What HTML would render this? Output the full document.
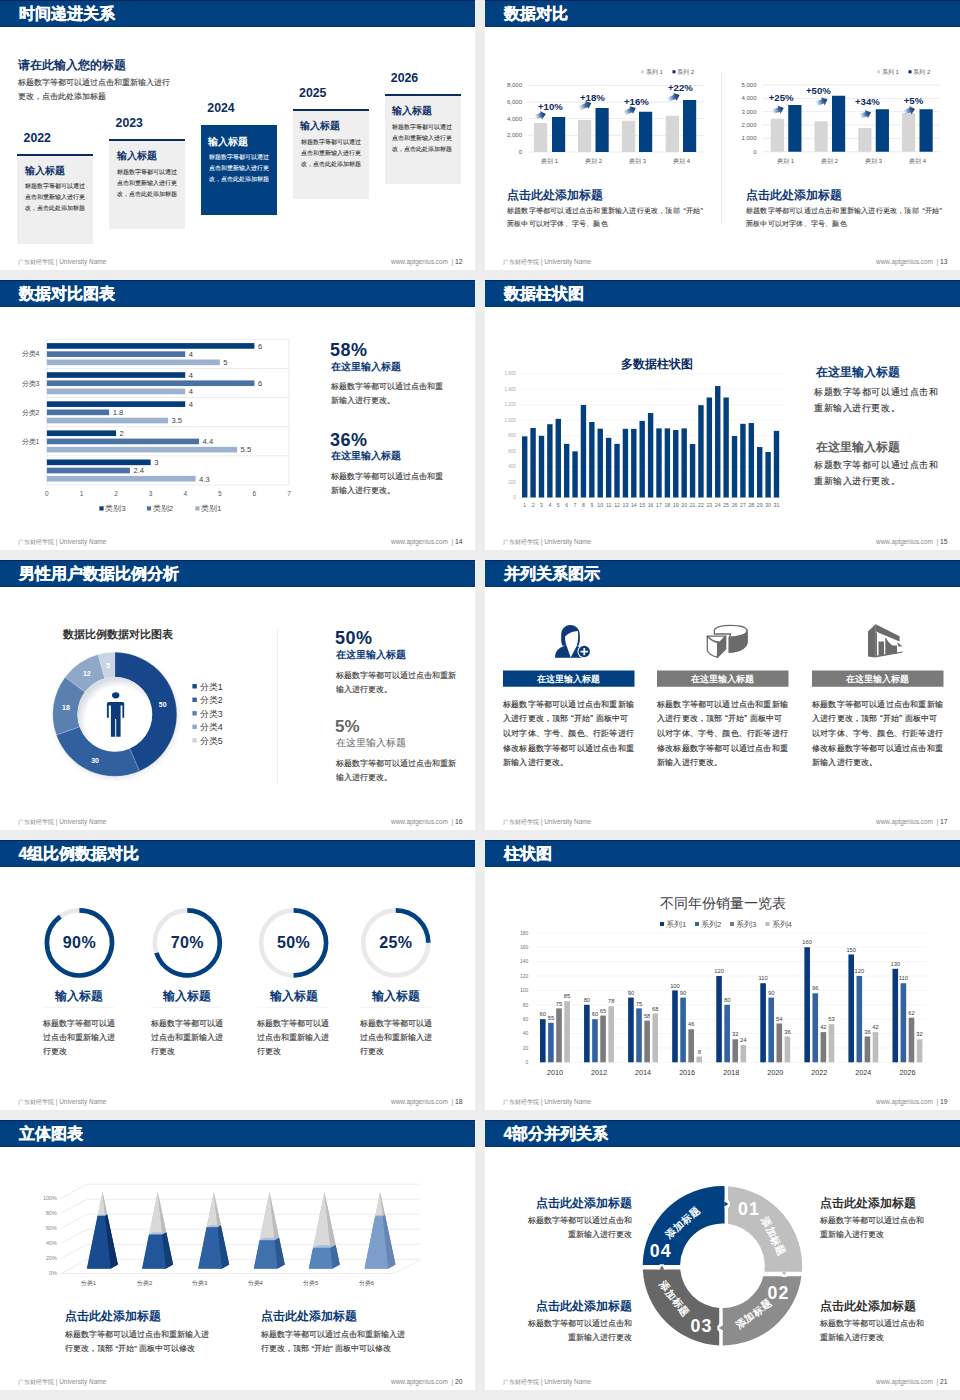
<!DOCTYPE html>
<html><head><meta charset="utf-8">
<style>
*{margin:0;padding:0;box-sizing:border-box}
html,body{width:960px;height:1400px;background:#ededed;overflow:hidden;font-family:"Liberation Sans",sans-serif}
.s{position:absolute;width:475px;height:270px;background:#fff;overflow:hidden}
.hd{position:absolute;left:0;top:0;width:475px;height:27px;background:#014181;border-bottom:1px solid #06316a;box-shadow:inset 0 1px 0 #05265a;color:#fff;font-weight:bold;font-size:15.8px;line-height:28.4px;padding-left:18.6px;-webkit-text-stroke:0.3px #fff}
.fl,.fr{position:absolute;top:257.5px;font-size:6.4px;color:#8a8a8a;white-space:nowrap}
.fl{left:18px}
.fr{right:12.5px}
.fr b{font-weight:normal;color:#444;font-size:6.8px}
.a{position:absolute;white-space:nowrap}
.sv{position:absolute;left:0;top:0}
.ax{font-size:6px;fill:#595959}
.t1{position:absolute;left:18px;top:56.5px;font-size:12px;font-weight:bold;color:#13356b;line-height:16px;white-space:nowrap}
.b1{position:absolute;left:18px;top:75.5px;font-size:8px;color:#333;-webkit-text-stroke:0.08px #333;line-height:14.5px;white-space:nowrap}
.yr{position:absolute;font-size:12.3px;font-weight:bold;color:#0b2c5f;line-height:16px}
.bx{position:absolute;width:76px;height:90px;background:#efefef;border-top:2px solid #0b2c5f;padding:8px 0 0 7.4px}
.bx.bl{background:#014181;border-top:0;padding-top:10px}
.bt{font-size:10px;font-weight:bold;color:#13356b;line-height:14px;white-space:nowrap}
.bl .bt{color:#fff}
.bb{font-size:6.3px;color:#333;padding-left:0.5px;-webkit-text-stroke:0.08px #333;line-height:11px;margin-top:2.8px;white-space:nowrap}
.bl .bb{color:#f4f6fa;margin-top:2px;-webkit-text-stroke:0.08px #f4f6fa}
.vl{font-size:7.6px;fill:#404040}
.yl{font-size:7px;fill:#505050}
.lg3{font-size:8px;fill:#505050}
.ax3{font-size:6.5px;fill:#595959}
.bigp{font-size:18px;font-weight:bold;fill:#0b2c5f;letter-spacing:0.5px}
.st{font-size:9.8px;font-weight:bold;fill:#0b3a78}
.bt3{font-size:8.1px;fill:#333;stroke:#333;stroke-width:0.12px}
.t4{font-size:11.7px;font-weight:bold;fill:#0b2c5f}
.tiny{font-size:4.5px;fill:#aaa}
.tiny2{font-size:5.2px;fill:#666}
.t4b{font-size:11.9px;fill:#0b3a78;font-weight:bold}
.t4c{font-size:11.9px;fill:#606060;font-weight:bold}
.b4{font-size:9px;letter-spacing:0.55px;fill:#333;stroke:#333;stroke-width:0.12px}
.dl{font-size:7px;font-weight:bold;fill:#fff}
.t5{font-size:10.9px;font-weight:bold;fill:#333}
.lg5{font-size:8.9px;fill:#333}
.bt5{font-size:8px;fill:#333;stroke:#333;stroke-width:0.12px}
.bigg{font-size:17px;font-weight:bold;fill:#666}
.stg{font-size:9.8px;fill:#666}
.bn6{font-size:8.6px;font-weight:bold;fill:#fff}
.bt6{font-size:8.3px;letter-spacing:0.18px;fill:#2a2a2a;stroke:#2a2a2a;stroke-width:0.12px}
.rp{font-size:16px;font-weight:bold;fill:#0b2c5f;letter-spacing:0.4px}
.rt{font-size:11.7px;font-weight:bold;fill:#0b3a78}
.b7{font-size:7.9px;fill:#333;stroke:#333;stroke-width:0.12px}
.t8{font-size:13.5px;fill:#404040}
.lg8{font-size:7.8px;fill:#555}
.tiny8{font-size:5px;fill:#777}
.vl8{font-size:5.8px;fill:#404040}
.yr8{font-size:7.2px;fill:#333}
.ax9{font-size:5.5px;fill:#888}
.ax9b{font-size:6px;fill:#555}
.t9{font-size:11.9px;font-weight:bold;fill:#0b3a78}
.b9{font-size:8px;fill:#333;stroke:#333;stroke-width:0.12px}
.n10{font-size:17.8px;font-weight:bold;fill:#fff;letter-spacing:1.1px}
.r10{font-size:10px;font-weight:bold;fill:#fff;letter-spacing:0.6px}
.t10{font-size:11.8px;font-weight:bold;fill:#0b3a78}
.t10g{font-size:11.8px;font-weight:bold;fill:#333}
.b10{font-size:7.9px;fill:#333;stroke:#333;stroke-width:0.12px}
.pc{font-size:9.6px;font-weight:bold;fill:#0b2c5f}
.t2{position:absolute;font-size:12px;font-weight:bold;color:#123b77;line-height:16px;white-space:nowrap}
.b2{position:absolute;font-size:7.2px;letter-spacing:0.2px;color:#333;-webkit-text-stroke:0.08px #333;line-height:12.5px;white-space:nowrap}
</style></head><body>
<div class="s" style="left:0px;top:0px"><div class="hd">时间递进关系</div><div class="t1">请在此输入您的标题</div><div class="b1">标题数字等都可以通过点击和重新输入进行<br>更改，点击此处添加标题</div>
<div class="yr" style="left:23.6px;top:129.7px">2022</div><div class="bx" style="left:17.3px;top:153.5px"><div class="bt">输入标题</div><div class="bb">标题数字等都可以通过<br>点击和重新输入进行更<br>改，点击此处添加标题</div></div>
<div class="yr" style="left:115.6px;top:115.2px">2023</div><div class="bx" style="left:109.3px;top:139px"><div class="bt">输入标题</div><div class="bb">标题数字等都可以通过<br>点击和重新输入进行更<br>改，点击此处添加标题</div></div>
<div class="yr" style="left:207.3px;top:100.2px">2024</div><div class="bx bl" style="left:201px;top:125px"><div class="bt">输入标题</div><div class="bb">标题数字等都可以通过<br>点击和重新输入进行更<br>改，点击此处添加标题</div></div>
<div class="yr" style="left:299.1px;top:85.2px">2025</div><div class="bx" style="left:292.8px;top:109px"><div class="bt">输入标题</div><div class="bb">标题数字等都可以通过<br>点击和重新输入进行更<br>改，点击此处添加标题</div></div>
<div class="yr" style="left:390.8px;top:70.2px">2026</div><div class="bx" style="left:384.5px;top:94px"><div class="bt">输入标题</div><div class="bb">标题数字等都可以通过<br>点击和重新输入进行更<br>改，点击此处添加标题</div></div>
<div class="fl">广东财经学院 | University Name</div><div class="fr">www.aptgenius.com &nbsp;| <b>12</b></div></div>
<div class="s" style="left:485px;top:0px"><div class="hd">数据对比</div><svg class="sv" width="475" height="270"><defs><linearGradient id="ag" x1="0" y1="0" x2="1" y2="0"><stop offset="0" stop-color="#3a6fb0" stop-opacity="0"/><stop offset="0.55" stop-color="#1d4f92" stop-opacity="0.85"/><stop offset="1" stop-color="#0b2c5f"/></linearGradient></defs>
<line x1="236.5" y1="72" x2="236.5" y2="224" stroke="#eeeeee" stroke-width="1"/>
<line x1="43" y1="85.4" x2="219" y2="85.4" stroke="#e6e6e6" stroke-width="0.8"/><text x="37" y="87.4" text-anchor="end" class="ax">8,000</text><line x1="43" y1="102.05" x2="219" y2="102.05" stroke="#e6e6e6" stroke-width="0.8"/><text x="37" y="104.05" text-anchor="end" class="ax">6,000</text><line x1="43" y1="118.7" x2="219" y2="118.7" stroke="#e6e6e6" stroke-width="0.8"/><text x="37" y="120.7" text-anchor="end" class="ax">4,000</text><line x1="43" y1="135.35" x2="219" y2="135.35" stroke="#e6e6e6" stroke-width="0.8"/><text x="37" y="137.35" text-anchor="end" class="ax">2,000</text><line x1="43" y1="152" x2="219" y2="152" stroke="#e6e6e6" stroke-width="0.8"/><text x="37" y="154" text-anchor="end" class="ax">0</text><rect x="49" y="123" width="13.2" height="29.00" fill="#d6d6d6"/><rect x="67" y="117" width="13.2" height="35.00" fill="#014181"/><rect x="93" y="120" width="13.2" height="32.00" fill="#d6d6d6"/><rect x="110.5" y="108" width="13.2" height="44.00" fill="#014181"/><rect x="137" y="120.75" width="13.2" height="31.25" fill="#d6d6d6"/><rect x="154" y="111.75" width="13.2" height="40.25" fill="#014181"/><rect x="180.75" y="115.75" width="13.2" height="36.25" fill="#d6d6d6"/><rect x="198" y="100" width="13.2" height="52.00" fill="#014181"/><text x="64.5" y="163.2" text-anchor="middle" class="ax">类别 1</text><text x="108.5" y="163.2" text-anchor="middle" class="ax">类别 2</text><text x="152.5" y="163.2" text-anchor="middle" class="ax">类别 3</text><text x="196.5" y="163.2" text-anchor="middle" class="ax">类别 4</text><rect x="156" y="70.3" width="3" height="3" fill="#d6d6d6"/><text x="160.8" y="74" class="ax">系列 1</text><rect x="187.5" y="70.3" width="3" height="3" fill="#0b2c5f"/><text x="192.3" y="74" class="ax">系列 2</text><path d="M0,-2.3 L6.13,-2.3 L6.13,-4.4 L11.13,0 L6.13,4.4 L6.13,2.3 L0,2.3 Z" fill="url(#ag)" transform="translate(50,116.7) rotate(-14.0)"/><path d="M0,-2.3 L8.66,-2.3 L8.66,-4.4 L13.66,0 L8.66,4.4 L8.66,2.3 L0,2.3 Z" fill="url(#ag)" transform="translate(93.75,108.5) rotate(-23.7)"/><path d="M0,-2.3 L8.20,-2.3 L8.20,-4.4 L13.20,0 L8.20,4.4 L8.20,2.3 L0,2.3 Z" fill="url(#ag)" transform="translate(138.75,113.5) rotate(-24.6)"/><path d="M0,-2.3 L8.00,-2.3 L8.00,-4.4 L13.00,0 L8.00,4.4 L8.00,2.3 L0,2.3 Z" fill="url(#ag)" transform="translate(182.5,100.0) rotate(-22.6)"/><text x="53" y="110" class="pc">+10%</text><text x="95" y="100.5" class="pc">+18%</text><text x="139" y="105" class="pc">+16%</text><text x="183" y="91" class="pc">+22%</text><line x1="277.5" y1="85" x2="455" y2="85" stroke="#e6e6e6" stroke-width="0.8"/><text x="271.5" y="87" text-anchor="end" class="ax">5,000</text><line x1="277.5" y1="98.35" x2="455" y2="98.35" stroke="#e6e6e6" stroke-width="0.8"/><text x="271.5" y="100.35" text-anchor="end" class="ax">4,000</text><line x1="277.5" y1="111.7" x2="455" y2="111.7" stroke="#e6e6e6" stroke-width="0.8"/><text x="271.5" y="113.7" text-anchor="end" class="ax">3,000</text><line x1="277.5" y1="125.05" x2="455" y2="125.05" stroke="#e6e6e6" stroke-width="0.8"/><text x="271.5" y="127.05" text-anchor="end" class="ax">2,000</text><line x1="277.5" y1="138.4" x2="455" y2="138.4" stroke="#e6e6e6" stroke-width="0.8"/><text x="271.5" y="140.4" text-anchor="end" class="ax">1,000</text><line x1="277.5" y1="151.75" x2="455" y2="151.75" stroke="#e6e6e6" stroke-width="0.8"/><text x="271.5" y="153.75" text-anchor="end" class="ax">0</text><rect x="285.75" y="118.75" width="13.2" height="33.00" fill="#d6d6d6"/><rect x="303.25" y="105" width="13.2" height="46.75" fill="#014181"/><rect x="329.5" y="121.25" width="13.2" height="30.50" fill="#d6d6d6"/><rect x="347" y="95.75" width="13.2" height="56.00" fill="#014181"/><rect x="373.25" y="128" width="13.2" height="23.75" fill="#d6d6d6"/><rect x="390.75" y="109.25" width="13.2" height="42.50" fill="#014181"/><rect x="417" y="113.25" width="13.2" height="38.50" fill="#d6d6d6"/><rect x="434.5" y="109.25" width="13.2" height="42.50" fill="#014181"/><text x="300.5" y="163.2" text-anchor="middle" class="ax">类别 1</text><text x="344.5" y="163.2" text-anchor="middle" class="ax">类别 2</text><text x="388.5" y="163.2" text-anchor="middle" class="ax">类别 3</text><text x="432.5" y="163.2" text-anchor="middle" class="ax">类别 4</text><rect x="392" y="70.3" width="3" height="3" fill="#d6d6d6"/><text x="396.8" y="74" class="ax">系列 1</text><rect x="423.5" y="70.3" width="3" height="3" fill="#0b2c5f"/><text x="428.3" y="74" class="ax">系列 2</text><path d="M0,-2.3 L6.94,-2.3 L6.94,-4.4 L11.94,0 L6.94,4.4 L6.94,2.3 L0,2.3 Z" fill="url(#ag)" transform="translate(287.5,112.0) rotate(-19.6)"/><path d="M0,-2.3 L7.35,-2.3 L7.35,-4.4 L12.35,0 L7.35,4.4 L7.35,2.3 L0,2.3 Z" fill="url(#ag)" transform="translate(331,104.0) rotate(-21.4)"/><path d="M0,-2.3 L6.70,-2.3 L6.70,-4.4 L11.70,0 L6.70,4.4 L6.70,2.3 L0,2.3 Z" fill="url(#ag)" transform="translate(375,116.5) rotate(-20.0)"/><path d="M0,-2.3 L6.64,-2.3 L6.64,-4.4 L11.64,0 L6.64,4.4 L6.64,2.3 L0,2.3 Z" fill="url(#ag)" transform="translate(418.75,112.0) rotate(-14.9)"/><text x="283.75" y="101" class="pc">+25%</text><text x="321" y="94" class="pc">+50%</text><text x="370" y="105" class="pc">+34%</text><text x="418.75" y="104" class="pc">+5%</text></svg>
<div class="t2" style="left:22px;top:186.5px">点击此处添加标题</div><div class="b2" style="left:22px;top:205.2px">标题数字等都可以通过点击和重新输入进行更改，顶部&#8194;“开始”<br>面板中可以对字体、字号、颜色</div>
<div class="t2" style="left:261px;top:186.5px">点击此处添加标题</div><div class="b2" style="left:261px;top:205.2px">标题数字等都可以通过点击和重新输入进行更改，顶部&#8194;“开始”<br>面板中可以对字体、字号、颜色</div>
<div class="fl">广东财经学院 | University Name</div><div class="fr">www.aptgenius.com &nbsp;| <b>13</b></div></div>
<div class="s" style="left:0px;top:280px"><div class="hd">数据对比图表</div><svg class="sv" width="475" height="270"><line x1="46.9" y1="59.40" x2="289" y2="59.40" stroke="#e3e3e3" stroke-width="0.7"/><line x1="46.9" y1="88.50" x2="289" y2="88.50" stroke="#e3e3e3" stroke-width="0.7"/><line x1="46.9" y1="117.60" x2="289" y2="117.60" stroke="#e3e3e3" stroke-width="0.7"/><line x1="46.9" y1="146.70" x2="289" y2="146.70" stroke="#e3e3e3" stroke-width="0.7"/><line x1="46.9" y1="175.80" x2="289" y2="175.80" stroke="#e3e3e3" stroke-width="0.7"/><line x1="46.9" y1="204.90" x2="289" y2="204.90" stroke="#e3e3e3" stroke-width="0.7"/><line x1="46.9" y1="59.4" x2="46.9" y2="204.90" stroke="#e3e3e3" stroke-width="0.7"/><line x1="289" y1="59.4" x2="289" y2="204.90" stroke="#e3e3e3" stroke-width="0.7"/><rect x="46.9" y="63.10" width="207.51" height="5.65" fill="#053c7c"/><text x="257.91" y="68.70" class="vl">6</text><rect x="46.9" y="71.30" width="138.34" height="5.65" fill="#4b72a4"/><text x="188.74" y="76.90" class="vl">4</text><rect x="46.9" y="79.50" width="172.93" height="5.65" fill="#9cb2cf"/><text x="223.33" y="85.10" class="vl">5</text><rect x="46.9" y="92.20" width="138.34" height="5.65" fill="#053c7c"/><text x="188.74" y="97.80" class="vl">4</text><rect x="46.9" y="100.40" width="207.51" height="5.65" fill="#4b72a4"/><text x="257.91" y="106.00" class="vl">6</text><rect x="46.9" y="108.60" width="138.34" height="5.65" fill="#9cb2cf"/><text x="188.74" y="114.20" class="vl">4</text><rect x="46.9" y="121.30" width="138.34" height="5.65" fill="#053c7c"/><text x="188.74" y="126.90" class="vl">4</text><rect x="46.9" y="129.50" width="62.25" height="5.65" fill="#4b72a4"/><text x="112.65" y="135.10" class="vl">1.8</text><rect x="46.9" y="137.70" width="121.05" height="5.65" fill="#9cb2cf"/><text x="171.45" y="143.30" class="vl">3.5</text><rect x="46.9" y="150.40" width="69.17" height="5.65" fill="#053c7c"/><text x="119.57" y="156.00" class="vl">2</text><rect x="46.9" y="158.60" width="152.18" height="5.65" fill="#4b72a4"/><text x="202.58" y="164.20" class="vl">4.4</text><rect x="46.9" y="166.80" width="190.22" height="5.65" fill="#9cb2cf"/><text x="240.62" y="172.40" class="vl">5.5</text><rect x="46.9" y="179.50" width="103.76" height="5.65" fill="#053c7c"/><text x="154.16" y="185.10" class="vl">3</text><rect x="46.9" y="187.70" width="83.01" height="5.65" fill="#4b72a4"/><text x="133.41" y="193.30" class="vl">2.4</text><rect x="46.9" y="195.90" width="148.72" height="5.65" fill="#9cb2cf"/><text x="199.12" y="201.50" class="vl">4.3</text><text x="39.5" y="76.45" text-anchor="end" class="yl">分类4</text><text x="39.5" y="105.55" text-anchor="end" class="yl">分类3</text><text x="39.5" y="134.65" text-anchor="end" class="yl">分类2</text><text x="39.5" y="163.75" text-anchor="end" class="yl">分类1</text><text x="46.90" y="215.8" text-anchor="middle" class="ax3">0</text><text x="81.49" y="215.8" text-anchor="middle" class="ax3">1</text><text x="116.07" y="215.8" text-anchor="middle" class="ax3">2</text><text x="150.66" y="215.8" text-anchor="middle" class="ax3">3</text><text x="185.24" y="215.8" text-anchor="middle" class="ax3">4</text><text x="219.83" y="215.8" text-anchor="middle" class="ax3">5</text><text x="254.41" y="215.8" text-anchor="middle" class="ax3">6</text><text x="289.00" y="215.8" text-anchor="middle" class="ax3">7</text><rect x="99.4" y="226.3" width="4.2" height="4.2" fill="#053c7c"/><text x="105.2" y="231.3" class="lg3">类别3</text><rect x="146.9" y="226.3" width="4.2" height="4.2" fill="#4b72a4"/><text x="152.70000000000002" y="231.3" class="lg3">类别2</text><rect x="195.3" y="226.3" width="4.2" height="4.2" fill="#9cb2cf"/><text x="201.10000000000002" y="231.3" class="lg3">类别1</text><text x="330" y="75.9" class="bigp">58%</text><text x="330.6" y="89.5" class="st">在这里输入标题</text>
<text x="330.6" y="109.4" class="bt3">标题数字等都可以通过点击和重</text><text x="330.6" y="123.4" class="bt3">新输入进行更改。</text>
<text x="330" y="165.8" class="bigp">36%</text><text x="330.6" y="179" class="st">在这里输入标题</text>
<text x="330.6" y="199.3" class="bt3">标题数字等都可以通过点击和重</text><text x="330.6" y="213.3" class="bt3">新输入进行更改。</text>
</svg><div class="fl">广东财经学院 | University Name</div><div class="fr">www.aptgenius.com &nbsp;| <b>14</b></div></div>
<div class="s" style="left:485px;top:280px"><div class="hd">数据柱状图</div><svg class="sv" width="475" height="270"><text x="172.2" y="88.3" text-anchor="middle" class="t4">多数据柱状图</text><line x1="34" y1="93.70" x2="298" y2="93.70" stroke="#f0f0f0" stroke-width="0.6"/><text x="30.8" y="95.40" text-anchor="end" class="tiny">1,600</text><line x1="34" y1="109.18" x2="298" y2="109.18" stroke="#f0f0f0" stroke-width="0.6"/><text x="30.8" y="110.88" text-anchor="end" class="tiny">1,400</text><line x1="34" y1="124.66" x2="298" y2="124.66" stroke="#f0f0f0" stroke-width="0.6"/><text x="30.8" y="126.36" text-anchor="end" class="tiny">1,200</text><line x1="34" y1="140.14" x2="298" y2="140.14" stroke="#f0f0f0" stroke-width="0.6"/><text x="30.8" y="141.84" text-anchor="end" class="tiny">1,000</text><line x1="34" y1="155.62" x2="298" y2="155.62" stroke="#f0f0f0" stroke-width="0.6"/><text x="30.8" y="157.32" text-anchor="end" class="tiny">800</text><line x1="34" y1="171.10" x2="298" y2="171.10" stroke="#f0f0f0" stroke-width="0.6"/><text x="30.8" y="172.80" text-anchor="end" class="tiny">600</text><line x1="34" y1="186.58" x2="298" y2="186.58" stroke="#f0f0f0" stroke-width="0.6"/><text x="30.8" y="188.28" text-anchor="end" class="tiny">400</text><line x1="34" y1="202.06" x2="298" y2="202.06" stroke="#f0f0f0" stroke-width="0.6"/><text x="30.8" y="203.76" text-anchor="end" class="tiny">200</text><line x1="34" y1="217.54" x2="298" y2="217.54" stroke="#f0f0f0" stroke-width="0.6"/><text x="30.8" y="219.24" text-anchor="end" class="tiny">0</text><rect x="37.00" y="156.35" width="5.4" height="61.15" fill="#023f7c"/><text x="39.70" y="227" text-anchor="middle" class="tiny2">1</text><rect x="45.39" y="147.99" width="5.4" height="69.51" fill="#023f7c"/><text x="48.09" y="227" text-anchor="middle" class="tiny2">2</text><rect x="53.79" y="155.81" width="5.4" height="61.69" fill="#023f7c"/><text x="56.49" y="227" text-anchor="middle" class="tiny2">3</text><rect x="62.18" y="144.20" width="5.4" height="73.30" fill="#023f7c"/><text x="64.88" y="227" text-anchor="middle" class="tiny2">4</text><rect x="70.57" y="138.86" width="5.4" height="78.64" fill="#023f7c"/><text x="73.27" y="227" text-anchor="middle" class="tiny2">5</text><rect x="78.97" y="163.86" width="5.4" height="53.64" fill="#023f7c"/><text x="81.67" y="227" text-anchor="middle" class="tiny2">6</text><rect x="87.36" y="171.37" width="5.4" height="46.13" fill="#023f7c"/><text x="90.06" y="227" text-anchor="middle" class="tiny2">7</text><rect x="95.75" y="125.01" width="5.4" height="92.49" fill="#023f7c"/><text x="98.45" y="227" text-anchor="middle" class="tiny2">8</text><rect x="104.14" y="142.03" width="5.4" height="75.47" fill="#023f7c"/><text x="106.84" y="227" text-anchor="middle" class="tiny2">9</text><rect x="112.54" y="148.69" width="5.4" height="68.81" fill="#023f7c"/><text x="115.24" y="227" text-anchor="middle" class="tiny2">10</text><rect x="120.93" y="157.82" width="5.4" height="59.68" fill="#023f7c"/><text x="123.63" y="227" text-anchor="middle" class="tiny2">11</text><rect x="129.32" y="163.86" width="5.4" height="53.64" fill="#023f7c"/><text x="132.02" y="227" text-anchor="middle" class="tiny2">12</text><rect x="137.72" y="148.85" width="5.4" height="68.65" fill="#023f7c"/><text x="140.42" y="227" text-anchor="middle" class="tiny2">13</text><rect x="146.11" y="148.85" width="5.4" height="68.65" fill="#023f7c"/><text x="148.81" y="227" text-anchor="middle" class="tiny2">14</text><rect x="154.50" y="140.87" width="5.4" height="76.63" fill="#023f7c"/><text x="157.20" y="227" text-anchor="middle" class="tiny2">15</text><rect x="162.90" y="133.06" width="5.4" height="84.44" fill="#023f7c"/><text x="165.59" y="227" text-anchor="middle" class="tiny2">16</text><rect x="171.29" y="148.38" width="5.4" height="69.12" fill="#023f7c"/><text x="173.99" y="227" text-anchor="middle" class="tiny2">17</text><rect x="179.68" y="148.38" width="5.4" height="69.12" fill="#023f7c"/><text x="182.38" y="227" text-anchor="middle" class="tiny2">18</text><rect x="188.07" y="150.01" width="5.4" height="67.49" fill="#023f7c"/><text x="190.77" y="227" text-anchor="middle" class="tiny2">19</text><rect x="196.47" y="148.38" width="5.4" height="69.12" fill="#023f7c"/><text x="199.17" y="227" text-anchor="middle" class="tiny2">20</text><rect x="204.86" y="164.02" width="5.4" height="53.48" fill="#023f7c"/><text x="207.56" y="227" text-anchor="middle" class="tiny2">21</text><rect x="213.25" y="125.16" width="5.4" height="92.34" fill="#023f7c"/><text x="215.95" y="227" text-anchor="middle" class="tiny2">22</text><rect x="221.65" y="117.50" width="5.4" height="100.00" fill="#023f7c"/><text x="224.35" y="227" text-anchor="middle" class="tiny2">23</text><rect x="230.04" y="106.04" width="5.4" height="111.46" fill="#023f7c"/><text x="232.74" y="227" text-anchor="middle" class="tiny2">24</text><rect x="238.43" y="117.50" width="5.4" height="100.00" fill="#023f7c"/><text x="241.13" y="227" text-anchor="middle" class="tiny2">25</text><rect x="246.83" y="156.04" width="5.4" height="61.46" fill="#023f7c"/><text x="249.53" y="227" text-anchor="middle" class="tiny2">26</text><rect x="255.22" y="143.82" width="5.4" height="73.68" fill="#023f7c"/><text x="257.92" y="227" text-anchor="middle" class="tiny2">27</text><rect x="263.61" y="143.04" width="5.4" height="74.46" fill="#023f7c"/><text x="266.31" y="227" text-anchor="middle" class="tiny2">28</text><rect x="272.00" y="167.04" width="5.4" height="50.46" fill="#023f7c"/><text x="274.70" y="227" text-anchor="middle" class="tiny2">29</text><rect x="280.40" y="171.99" width="5.4" height="45.51" fill="#023f7c"/><text x="283.10" y="227" text-anchor="middle" class="tiny2">30</text><rect x="288.79" y="150.86" width="5.4" height="66.64" fill="#023f7c"/><text x="291.49" y="227" text-anchor="middle" class="tiny2">31</text><text x="330.8" y="96.4" class="t4b">在这里输入标题</text>
<text x="329.2" y="115" class="b4">标题数字等都可以通过点击和</text><text x="329.2" y="130.8" class="b4">重新输入进行更改。</text>
<text x="330.8" y="170.6" class="t4c">在这里输入标题</text>
<text x="329.2" y="188.3" class="b4">标题数字等都可以通过点击和</text><text x="329.2" y="204.1" class="b4">重新输入进行更改。</text>
</svg><div class="fl">广东财经学院 | University Name</div><div class="fr">www.aptgenius.com &nbsp;| <b>15</b></div></div>
<div class="s" style="left:0px;top:560px"><div class="hd">男性用户数据比例分析</div><svg class="sv" width="475" height="270"><defs><radialGradient id="dsh" cx="0.5" cy="0.5" r="0.5"><stop offset="0.85" stop-color="#000" stop-opacity="0.12"/><stop offset="1" stop-color="#000" stop-opacity="0"/></radialGradient><radialGradient id="ish" cx="0.56" cy="0.58" r="0.56"><stop offset="0.8" stop-color="#7a8ca5" stop-opacity="0"/><stop offset="1" stop-color="#7a8ca5" stop-opacity="0.28"/></radialGradient></defs><circle cx="115.8" cy="156.3" r="66" fill="url(#dsh)"/><path d="M114.80,92.30 A62,62 0 0 1 139.50,211.17 L129.66,188.51 A37.3,37.3 0 0 0 114.80,117.00 Z" fill="#17468a" stroke="#fff" stroke-opacity="0.35" stroke-width="0.5"/><path d="M139.50,211.17 A62,62 0 0 1 56.38,175.06 L79.65,166.79 A37.3,37.3 0 0 0 129.66,188.51 Z" fill="#30609e" stroke="#fff" stroke-opacity="0.35" stroke-width="0.5"/><path d="M56.38,175.06 A62,62 0 0 1 65.14,117.18 L84.93,131.97 A37.3,37.3 0 0 0 79.65,166.79 Z" fill="#5a80b2" stroke="#fff" stroke-opacity="0.35" stroke-width="0.5"/><path d="M65.14,117.18 A62,62 0 0 1 98.07,94.60 L104.74,118.38 A37.3,37.3 0 0 0 84.93,131.97 Z" fill="#8fa8c9" stroke="#fff" stroke-opacity="0.35" stroke-width="0.5"/><path d="M98.07,94.60 A62,62 0 0 1 114.80,92.30 L114.80,117.00 A37.3,37.3 0 0 0 104.74,118.38 Z" fill="#c9d4e4" stroke="#fff" stroke-opacity="0.35" stroke-width="0.5"/><circle cx="114.8" cy="154.3" r="37.3" fill="#fff"/><circle cx="114.8" cy="154.3" r="37.3" fill="url(#ish)"/><text x="162.7" y="147.10000000000002" text-anchor="middle" class="dl">50</text><text x="95.1" y="202.70000000000002" text-anchor="middle" class="dl">30</text><text x="66" y="149.8" text-anchor="middle" class="dl">18</text><text x="86.8" y="116.0" text-anchor="middle" class="dl">12</text><text x="108" y="107.5" text-anchor="middle" class="dl">5</text><ellipse cx="115.7" cy="135.3" rx="3.7" ry="3.1" fill="#0b3a78"/><path d="M108.6,142.1 L122.6,142.1 Q124.2,142.1 124.2,143.7 L124.2,157.7 L122.4,157.7 L122.4,145.5 L120.6,145.5 L120.6,176.7 L116.2,176.7 L116.2,159 L115.2,159 L115.2,176.7 L110.9,176.7 L110.9,145.5 L108.8,145.5 L108.8,157.7 L106.9,157.7 L106.9,143.7 Q106.9,142.1 108.6,142.1 Z" fill="#0b3a78"/><text x="117.6" y="78.3" text-anchor="middle" class="t5">数据比例数据对比图表</text><rect x="192.4" y="124.10" width="4.4" height="4.4" fill="#17468a"/><text x="199.7" y="129.50" class="lg5">分类1</text><rect x="192.4" y="137.60" width="4.4" height="4.4" fill="#30609e"/><text x="199.7" y="143.00" class="lg5">分类2</text><rect x="192.4" y="151.10" width="4.4" height="4.4" fill="#5a80b2"/><text x="199.7" y="156.50" class="lg5">分类3</text><rect x="192.4" y="164.60" width="4.4" height="4.4" fill="#8fa8c9"/><text x="199.7" y="170.00" class="lg5">分类4</text><rect x="192.4" y="178.10" width="4.4" height="4.4" fill="#c9d4e4"/><text x="199.7" y="183.50" class="lg5">分类5</text><line x1="277.5" y1="69" x2="277.5" y2="223.6" stroke="#ececec" stroke-width="0.8"/><text x="335" y="83.6" class="bigp">50%</text><text x="335.7" y="97.6" class="st">在这里输入标题</text>
<text x="335.5" y="117.8" class="bt5">标题数字等都可以通过点击和重新</text><text x="335.5" y="131.6" class="bt5">输入进行更改。</text>
<text x="335" y="172" class="bigg">5%</text><text x="335.7" y="186" class="stg">在这里输入标题</text>
<text x="335.5" y="206.2" class="bt5">标题数字等都可以通过点击和重新</text><text x="335.5" y="219.7" class="bt5">输入进行更改。</text>
</svg><div class="fl">广东财经学院 | University Name</div><div class="fr">www.aptgenius.com &nbsp;| <b>16</b></div></div>
<div class="s" style="left:485px;top:560px"><div class="hd">并列关系图示</div><svg class="sv" width="475" height="270"><g transform="translate(70,65)" fill="#0b3a78">
<path d="M15.3,0 C9.5,0 6.2,4.5 6.2,10 C6.2,14 5.8,17.5 7.5,20.8 L23.5,20.8 C25.2,17.5 24.8,14 24.8,10 C24.8,4.5 21.3,0 15.3,0 Z"/>
<path d="M0,32.7 C0,26.5 3,23.2 9.5,20.8 L21.5,20.8 C28,23.2 30,26.5 30,32.7 Z"/>
<path fill="#fff" d="M10.2,11.2 C13,8.2 18,6.2 22.9,6 C23.4,11 23.2,17 21.8,20.8 L15.7,32.4 L11.6,20.8 C10.2,17 9.9,13.5 10.2,11.2 Z"/>
<circle cx="29.2" cy="26.5" r="6.8" fill="#fff"/>
<circle cx="29.2" cy="26.5" r="5.7"/>
<path fill="#fff" d="M28.4,22.9h1.7v2.8h2.8v1.7h-2.8v2.8h-1.7v-2.8h-2.8v-1.7h2.8z"/>
</g><g transform="translate(222,65)" stroke="#6b6b6b" stroke-width="1.3" stroke-linejoin="round">
<path d="M7.3,5.8 C7.3,2 15,0.3 23.6,0.3 C32,0.3 40,2 40,5.8 L40,17 C40,23 32,26.5 22.3,27.2 L22.3,12.5 L23.8,9 L7.3,9 Z" fill="#fff"/>
<path d="M22.3,12.2 C30,11.8 40,10 40,5.8 L40,17 C40,23 32,26.5 22.3,27.2 Z" fill="#6b6b6b"/>
<path d="M0.3,11.2 L18.7,11.2 L13,17.2 C8,17 3,14.5 0.3,11.2 Z" fill="#fff"/>
<path d="M0.3,11.2 C3,14.5 8,17 10.8,17.5 L10.5,32.3 C5,31 0.3,28 0.3,25 Z" fill="#fff"/>
<path d="M13,17.2 L18.7,11.2 L18.7,24 L10.5,32.3 L10.8,17.5 Z" fill="#6b6b6b"/>
</g><g transform="translate(383,64)" fill="#6b6b6b">
<path d="M0,7.5 L7.2,0.5 L7.2,33.5 L0,32.5 Z"/>
<path d="M7.2,0 L31.6,12.3 L31.6,17.5 L7.2,7.2 Z"/>
<path d="M7.2,7.2 L7.2,33.5 L34.6,28.6 L34.6,27.5 L9,31.5 L9,9 Z"/>
<path d="M10.5,17.6 L16,17.6 L16,31 L10.5,31.8 Z"/>
<path d="M17.3,13 L20.5,18 L24.5,21.5 L29,21.5 L29,29.5 L17.3,31 Z"/>
<path d="M29,18 L34.5,22.5 L30.5,22.5 Z"/>
</g><rect x="18" y="110.5" width="131.5" height="16.25" fill="#014181"/><text x="83.75" y="121.6" text-anchor="middle" class="bn6">在这里输入标题</text><text x="18" y="146.60" class="bt6">标题数字等都可以通过点击和重新输</text><text x="18" y="161.25" class="bt6">入进行更改，顶部&#160;“开始”&#160;面板中可</text><text x="18" y="175.90" class="bt6">以对字体、字号、颜色、行距等进行</text><text x="18" y="190.55" class="bt6">修改标题数字等都可以通过点击和重</text><text x="18" y="205.20" class="bt6">新输入进行更改。</text><rect x="172" y="110.5" width="131.5" height="16.25" fill="#7a7a7a"/><text x="237.75" y="121.6" text-anchor="middle" class="bn6">在这里输入标题</text><text x="172" y="146.60" class="bt6">标题数字等都可以通过点击和重新输</text><text x="172" y="161.25" class="bt6">入进行更改，顶部&#160;“开始”&#160;面板中可</text><text x="172" y="175.90" class="bt6">以对字体、字号、颜色、行距等进行</text><text x="172" y="190.55" class="bt6">修改标题数字等都可以通过点击和重</text><text x="172" y="205.20" class="bt6">新输入进行更改。</text><rect x="327" y="110.5" width="131.5" height="16.25" fill="#7a7a7a"/><text x="392.75" y="121.6" text-anchor="middle" class="bn6">在这里输入标题</text><text x="327" y="146.60" class="bt6">标题数字等都可以通过点击和重新输</text><text x="327" y="161.25" class="bt6">入进行更改，顶部&#160;“开始”&#160;面板中可</text><text x="327" y="175.90" class="bt6">以对字体、字号、颜色、行距等进行</text><text x="327" y="190.55" class="bt6">修改标题数字等都可以通过点击和重</text><text x="327" y="205.20" class="bt6">新输入进行更改。</text></svg><div class="fl">广东财经学院 | University Name</div><div class="fr">www.aptgenius.com &nbsp;| <b>17</b></div></div>
<div class="s" style="left:0px;top:840px"><div class="hd">4组比例数据对比</div><svg class="sv" width="475" height="270"><circle cx="79.4" cy="102.85" r="32.5" fill="none" stroke="#e9e9ec" stroke-width="4.6"/><path d="M79.4,70.35 A32.5,32.5 0 1 1 60.30,76.56" fill="none" stroke="#014181" stroke-width="4.6"/><text x="79.4" y="107.65" text-anchor="middle" class="rp">90%</text><text x="79.4" y="159.6" text-anchor="middle" class="rt">输入标题</text><line x1="43" y1="167.3" x2="114" y2="167.3" stroke="#f0f0f0" stroke-width="0.8"/><text x="43" y="185.70" class="b7">标题数字等都可以通</text><text x="43" y="200.00" class="b7">过点击和重新输入进</text><text x="43" y="214.30" class="b7">行更改</text><circle cx="187.3" cy="102.85" r="32.5" fill="none" stroke="#e9e9ec" stroke-width="4.6"/><path d="M187.3,70.35 A32.5,32.5 0 1 1 156.39,112.89" fill="none" stroke="#014181" stroke-width="4.6"/><text x="187.3" y="107.65" text-anchor="middle" class="rp">70%</text><text x="187.3" y="159.6" text-anchor="middle" class="rt">输入标题</text><line x1="151" y1="167.3" x2="222" y2="167.3" stroke="#f0f0f0" stroke-width="0.8"/><text x="151" y="185.70" class="b7">标题数字等都可以通</text><text x="151" y="200.00" class="b7">过点击和重新输入进</text><text x="151" y="214.30" class="b7">行更改</text><circle cx="293.6" cy="102.85" r="32.5" fill="none" stroke="#e9e9ec" stroke-width="4.6"/><path d="M293.6,70.35 A32.5,32.5 0 0 1 293.60,135.35" fill="none" stroke="#014181" stroke-width="4.6"/><text x="293.6" y="107.65" text-anchor="middle" class="rp">50%</text><text x="293.6" y="159.6" text-anchor="middle" class="rt">输入标题</text><line x1="257.2" y1="167.3" x2="328.2" y2="167.3" stroke="#f0f0f0" stroke-width="0.8"/><text x="257.2" y="185.70" class="b7">标题数字等都可以通</text><text x="257.2" y="200.00" class="b7">过点击和重新输入进</text><text x="257.2" y="214.30" class="b7">行更改</text><circle cx="395.8" cy="102.85" r="32.5" fill="none" stroke="#e9e9ec" stroke-width="4.6"/><path d="M395.8,70.35 A32.5,32.5 0 0 1 428.30,102.85" fill="none" stroke="#014181" stroke-width="4.6"/><text x="395.8" y="107.65" text-anchor="middle" class="rp">25%</text><text x="395.8" y="159.6" text-anchor="middle" class="rt">输入标题</text><line x1="359.6" y1="167.3" x2="430.6" y2="167.3" stroke="#f0f0f0" stroke-width="0.8"/><text x="359.6" y="185.70" class="b7">标题数字等都可以通</text><text x="359.6" y="200.00" class="b7">过点击和重新输入进</text><text x="359.6" y="214.30" class="b7">行更改</text></svg><div class="fl">广东财经学院 | University Name</div><div class="fr">www.aptgenius.com &nbsp;| <b>18</b></div></div>
<div class="s" style="left:485px;top:840px"><div class="hd">柱状图</div><svg class="sv" width="475" height="270"><text x="237.8" y="67.8" text-anchor="middle" class="t8">不同年份销量一览表</text><rect x="175" y="82" width="4" height="4" fill="#0b3a7c"/><text x="181" y="87.2" class="lg8">系列1</text><rect x="210" y="82" width="4" height="4" fill="#3563a0"/><text x="216" y="87.2" class="lg8">系列2</text><rect x="245" y="82" width="4" height="4" fill="#7b7b7b"/><text x="251" y="87.2" class="lg8">系列3</text><rect x="280.5" y="82" width="4" height="4" fill="#bdbdbd"/><text x="286.5" y="87.2" class="lg8">系列4</text><line x1="51" y1="92.90" x2="442.2" y2="92.90" stroke="#efefef" stroke-width="0.6"/><text x="43.3" y="94.70" text-anchor="end" class="tiny8">180</text><line x1="51" y1="107.28" x2="442.2" y2="107.28" stroke="#efefef" stroke-width="0.6"/><text x="43.3" y="109.08" text-anchor="end" class="tiny8">160</text><line x1="51" y1="121.66" x2="442.2" y2="121.66" stroke="#efefef" stroke-width="0.6"/><text x="43.3" y="123.46" text-anchor="end" class="tiny8">140</text><line x1="51" y1="136.04" x2="442.2" y2="136.04" stroke="#efefef" stroke-width="0.6"/><text x="43.3" y="137.84" text-anchor="end" class="tiny8">120</text><line x1="51" y1="150.42" x2="442.2" y2="150.42" stroke="#efefef" stroke-width="0.6"/><text x="43.3" y="152.22" text-anchor="end" class="tiny8">100</text><line x1="51" y1="164.80" x2="442.2" y2="164.80" stroke="#efefef" stroke-width="0.6"/><text x="43.3" y="166.60" text-anchor="end" class="tiny8">80</text><line x1="51" y1="179.18" x2="442.2" y2="179.18" stroke="#efefef" stroke-width="0.6"/><text x="43.3" y="180.98" text-anchor="end" class="tiny8">60</text><line x1="51" y1="193.56" x2="442.2" y2="193.56" stroke="#efefef" stroke-width="0.6"/><text x="43.3" y="195.36" text-anchor="end" class="tiny8">40</text><line x1="51" y1="207.94" x2="442.2" y2="207.94" stroke="#efefef" stroke-width="0.6"/><text x="43.3" y="209.74" text-anchor="end" class="tiny8">20</text><line x1="51" y1="222.32" x2="442.2" y2="222.32" stroke="#efefef" stroke-width="0.6"/><text x="43.3" y="224.12" text-anchor="end" class="tiny8">0</text><rect x="55.00" y="179.16" width="5.6" height="43.14" fill="#0b3a7c"/><text x="57.80" y="176.36" text-anchor="middle" class="vl8">60</text><rect x="63.10" y="182.75" width="5.6" height="39.55" fill="#3563a0"/><text x="65.90" y="179.95" text-anchor="middle" class="vl8">55</text><rect x="71.20" y="168.38" width="5.6" height="53.92" fill="#7b7b7b"/><text x="74.00" y="165.57" text-anchor="middle" class="vl8">75</text><rect x="79.30" y="161.19" width="5.6" height="61.11" fill="#bdbdbd"/><text x="82.10" y="158.38" text-anchor="middle" class="vl8">85</text><text x="69.95" y="234.8" text-anchor="middle" class="yr8">2010</text><rect x="99.06" y="164.78" width="5.6" height="57.52" fill="#0b3a7c"/><text x="101.86" y="161.98" text-anchor="middle" class="vl8">80</text><rect x="107.16" y="179.16" width="5.6" height="43.14" fill="#3563a0"/><text x="109.96" y="176.36" text-anchor="middle" class="vl8">60</text><rect x="115.26" y="175.56" width="5.6" height="46.73" fill="#7b7b7b"/><text x="118.06" y="172.76" text-anchor="middle" class="vl8">65</text><rect x="123.36" y="166.22" width="5.6" height="56.08" fill="#bdbdbd"/><text x="126.16" y="163.42" text-anchor="middle" class="vl8">78</text><text x="114.01" y="234.8" text-anchor="middle" class="yr8">2012</text><rect x="143.12" y="157.59" width="5.6" height="64.71" fill="#0b3a7c"/><text x="145.92" y="154.79" text-anchor="middle" class="vl8">90</text><rect x="151.22" y="168.38" width="5.6" height="53.92" fill="#3563a0"/><text x="154.02" y="165.57" text-anchor="middle" class="vl8">75</text><rect x="159.32" y="180.60" width="5.6" height="41.70" fill="#7b7b7b"/><text x="162.12" y="177.80" text-anchor="middle" class="vl8">58</text><rect x="167.42" y="173.41" width="5.6" height="48.89" fill="#bdbdbd"/><text x="170.22" y="170.61" text-anchor="middle" class="vl8">68</text><text x="158.07" y="234.8" text-anchor="middle" class="yr8">2014</text><rect x="187.18" y="150.40" width="5.6" height="71.90" fill="#0b3a7c"/><text x="189.98" y="147.60" text-anchor="middle" class="vl8">100</text><rect x="195.28" y="157.59" width="5.6" height="64.71" fill="#3563a0"/><text x="198.08" y="154.79" text-anchor="middle" class="vl8">90</text><rect x="203.38" y="189.23" width="5.6" height="33.07" fill="#7b7b7b"/><text x="206.18" y="186.43" text-anchor="middle" class="vl8">46</text><rect x="211.48" y="216.55" width="5.6" height="5.75" fill="#bdbdbd"/><text x="214.28" y="213.75" text-anchor="middle" class="vl8">8</text><text x="202.13" y="234.8" text-anchor="middle" class="yr8">2016</text><rect x="231.24" y="136.02" width="5.6" height="86.28" fill="#0b3a7c"/><text x="234.04" y="133.22" text-anchor="middle" class="vl8">120</text><rect x="239.34" y="164.78" width="5.6" height="57.52" fill="#3563a0"/><text x="242.14" y="161.98" text-anchor="middle" class="vl8">80</text><rect x="247.44" y="199.29" width="5.6" height="23.01" fill="#7b7b7b"/><text x="250.24" y="196.49" text-anchor="middle" class="vl8">32</text><rect x="255.54" y="205.04" width="5.6" height="17.26" fill="#bdbdbd"/><text x="258.34" y="202.24" text-anchor="middle" class="vl8">24</text><text x="246.19" y="234.8" text-anchor="middle" class="yr8">2018</text><rect x="275.30" y="143.21" width="5.6" height="79.09" fill="#0b3a7c"/><text x="278.10" y="140.41" text-anchor="middle" class="vl8">110</text><rect x="283.40" y="157.59" width="5.6" height="64.71" fill="#3563a0"/><text x="286.20" y="154.79" text-anchor="middle" class="vl8">90</text><rect x="291.50" y="183.47" width="5.6" height="38.83" fill="#7b7b7b"/><text x="294.30" y="180.67" text-anchor="middle" class="vl8">54</text><rect x="299.60" y="196.42" width="5.6" height="25.88" fill="#bdbdbd"/><text x="302.40" y="193.62" text-anchor="middle" class="vl8">36</text><text x="290.25" y="234.8" text-anchor="middle" class="yr8">2020</text><rect x="319.36" y="107.26" width="5.6" height="115.04" fill="#0b3a7c"/><text x="322.16" y="104.46" text-anchor="middle" class="vl8">160</text><rect x="327.46" y="153.28" width="5.6" height="69.02" fill="#3563a0"/><text x="330.26" y="150.48" text-anchor="middle" class="vl8">96</text><rect x="335.56" y="192.10" width="5.6" height="30.20" fill="#7b7b7b"/><text x="338.36" y="189.30" text-anchor="middle" class="vl8">42</text><rect x="343.66" y="184.19" width="5.6" height="38.11" fill="#bdbdbd"/><text x="346.46" y="181.39" text-anchor="middle" class="vl8">53</text><text x="334.31" y="234.8" text-anchor="middle" class="yr8">2022</text><rect x="363.42" y="114.45" width="5.6" height="107.85" fill="#0b3a7c"/><text x="366.22" y="111.65" text-anchor="middle" class="vl8">150</text><rect x="371.52" y="136.02" width="5.6" height="86.28" fill="#3563a0"/><text x="374.32" y="133.22" text-anchor="middle" class="vl8">120</text><rect x="379.62" y="196.42" width="5.6" height="25.88" fill="#7b7b7b"/><text x="382.42" y="193.62" text-anchor="middle" class="vl8">36</text><rect x="387.72" y="192.10" width="5.6" height="30.20" fill="#bdbdbd"/><text x="390.52" y="189.30" text-anchor="middle" class="vl8">42</text><text x="378.37" y="234.8" text-anchor="middle" class="yr8">2024</text><rect x="407.48" y="128.83" width="5.6" height="93.47" fill="#0b3a7c"/><text x="410.28" y="126.03" text-anchor="middle" class="vl8">130</text><rect x="415.58" y="143.21" width="5.6" height="79.09" fill="#3563a0"/><text x="418.38" y="140.41" text-anchor="middle" class="vl8">110</text><rect x="423.68" y="177.72" width="5.6" height="44.58" fill="#7b7b7b"/><text x="426.48" y="174.92" text-anchor="middle" class="vl8">62</text><rect x="431.78" y="199.29" width="5.6" height="23.01" fill="#bdbdbd"/><text x="434.58" y="196.49" text-anchor="middle" class="vl8">32</text><text x="422.43" y="234.8" text-anchor="middle" class="yr8">2026</text></svg><div class="fl">广东财经学院 | University Name</div><div class="fr">www.aptgenius.com &nbsp;| <b>19</b></div></div>
<div class="s" style="left:0px;top:1120px"><div class="hd">立体图表</div><svg class="sv" width="475" height="270"><line x1="61" y1="153.50" x2="87.3" y2="139.40" stroke="#e4e4e4" stroke-width="0.7"/><line x1="87.3" y1="139.40" x2="419" y2="139.40" stroke="#e4e4e4" stroke-width="0.7"/><text x="57" y="155.40" text-anchor="end" class="ax9">0%</text><line x1="61" y1="138.45" x2="87.3" y2="124.35" stroke="#e4e4e4" stroke-width="0.7"/><line x1="87.3" y1="124.35" x2="419" y2="124.35" stroke="#e4e4e4" stroke-width="0.7"/><text x="57" y="140.35" text-anchor="end" class="ax9">20%</text><line x1="61" y1="123.40" x2="87.3" y2="109.30" stroke="#e4e4e4" stroke-width="0.7"/><line x1="87.3" y1="109.30" x2="419" y2="109.30" stroke="#e4e4e4" stroke-width="0.7"/><text x="57" y="125.30" text-anchor="end" class="ax9">40%</text><line x1="61" y1="108.35" x2="87.3" y2="94.25" stroke="#e4e4e4" stroke-width="0.7"/><line x1="87.3" y1="94.25" x2="419" y2="94.25" stroke="#e4e4e4" stroke-width="0.7"/><text x="57" y="110.25" text-anchor="end" class="ax9">60%</text><line x1="61" y1="93.30" x2="87.3" y2="79.20" stroke="#e4e4e4" stroke-width="0.7"/><line x1="87.3" y1="79.20" x2="419" y2="79.20" stroke="#e4e4e4" stroke-width="0.7"/><text x="57" y="95.20" text-anchor="end" class="ax9">80%</text><line x1="61" y1="78.25" x2="87.3" y2="64.15" stroke="#e4e4e4" stroke-width="0.7"/><line x1="87.3" y1="64.15" x2="419" y2="64.15" stroke="#e4e4e4" stroke-width="0.7"/><text x="57" y="80.15" text-anchor="end" class="ax9">100%</text><line x1="61" y1="153.5" x2="393.8" y2="153.5" stroke="#e4e4e4" stroke-width="0.7"/><line x1="393.8" y1="153.5" x2="420.2" y2="140.20000000000005" stroke="#e4e4e4" stroke-width="0.7"/><path d="M87.10,148.50 L110.80,148.50 L117.90,144.40 L107.27,94.51 L97.73,95.78 Z" fill="#0c3168"/><path d="M97.73,95.78 L107.27,94.51 L102.50,72.10 Z" fill="#bcbcbc"/><path d="M97.73,95.78 L105.07,95.78 L102.50,72.10 Z" fill="#d9d9d9"/><path d="M105.07,95.78 L107.27,94.51 L102.50,72.10 Z" fill="#bcbcbc"/><path d="M87.10,148.50 L110.80,148.50 L105.07,95.78 L97.73,95.78 Z" fill="#194b90" stroke="#194b90" stroke-width="0.3"/><path d="M110.80,148.50 L117.90,144.40 L107.27,94.51 L105.07,95.78 Z" fill="#0c3168"/><path d="M97.73,95.78 L105.07,95.78 L107.27,94.51 L99.93,94.51 Z" fill="#9fbbe0" opacity="0.8"/><path d="M142.30,148.50 L166.00,148.50 L173.10,144.40 L166.25,112.23 L149.15,114.50 Z" fill="#123d75"/><path d="M149.15,114.50 L166.25,112.23 L157.70,72.10 Z" fill="#bcbcbc"/><path d="M149.15,114.50 L162.31,114.50 L157.70,72.10 Z" fill="#d9d9d9"/><path d="M162.31,114.50 L166.25,112.23 L157.70,72.10 Z" fill="#bcbcbc"/><path d="M142.30,148.50 L166.00,148.50 L162.31,114.50 L149.15,114.50 Z" fill="#22569a" stroke="#22569a" stroke-width="0.3"/><path d="M166.00,148.50 L173.10,144.40 L166.25,112.23 L162.31,114.50 Z" fill="#123d75"/><path d="M149.15,114.50 L162.31,114.50 L166.25,112.23 L153.09,112.23 Z" fill="#9fbbe0" opacity="0.8"/><path d="M198.40,148.50 L222.10,148.50 L229.20,144.40 L220.88,105.36 L206.72,107.24 Z" fill="#1a4a85"/><path d="M206.72,107.24 L220.88,105.36 L213.80,72.10 Z" fill="#bcbcbc"/><path d="M206.72,107.24 L217.62,107.24 L213.80,72.10 Z" fill="#d9d9d9"/><path d="M217.62,107.24 L220.88,105.36 L213.80,72.10 Z" fill="#bcbcbc"/><path d="M198.40,148.50 L222.10,148.50 L217.62,107.24 L206.72,107.24 Z" fill="#2e61a3" stroke="#2e61a3" stroke-width="0.3"/><path d="M222.10,148.50 L229.20,144.40 L220.88,105.36 L217.62,107.24 Z" fill="#1a4a85"/><path d="M206.72,107.24 L217.62,107.24 L220.88,105.36 L209.98,105.36 Z" fill="#9fbbe0" opacity="0.8"/><path d="M254.00,148.50 L277.70,148.50 L284.80,144.40 L279.10,117.65 L259.70,120.23 Z" fill="#2a5890"/><path d="M259.70,120.23 L279.10,117.65 L269.40,72.10 Z" fill="#bcbcbc"/><path d="M259.70,120.23 L274.63,120.23 L269.40,72.10 Z" fill="#d9d9d9"/><path d="M274.63,120.23 L279.10,117.65 L269.40,72.10 Z" fill="#bcbcbc"/><path d="M254.00,148.50 L277.70,148.50 L274.63,120.23 L259.70,120.23 Z" fill="#4071ac" stroke="#4071ac" stroke-width="0.3"/><path d="M277.70,148.50 L284.80,144.40 L279.10,117.65 L274.63,120.23 Z" fill="#2a5890"/><path d="M259.70,120.23 L274.63,120.23 L279.10,117.65 L264.17,117.65 Z" fill="#9fbbe0" opacity="0.8"/><path d="M309.00,148.50 L332.70,148.50 L339.80,144.40 L335.64,124.88 L313.16,127.87 Z" fill="#3d6aa0"/><path d="M313.16,127.87 L335.64,124.88 L324.40,72.10 Z" fill="#bcbcbc"/><path d="M313.16,127.87 L330.46,127.87 L324.40,72.10 Z" fill="#d9d9d9"/><path d="M330.46,127.87 L335.64,124.88 L324.40,72.10 Z" fill="#bcbcbc"/><path d="M309.00,148.50 L332.70,148.50 L330.46,127.87 L313.16,127.87 Z" fill="#5784bb" stroke="#5784bb" stroke-width="0.3"/><path d="M332.70,148.50 L339.80,144.40 L335.64,124.88 L330.46,127.87 Z" fill="#3d6aa0"/><path d="M313.16,127.87 L330.46,127.87 L335.64,124.88 L318.34,124.88 Z" fill="#9fbbe0" opacity="0.8"/><path d="M364.70,148.50 L388.40,148.50 L395.50,144.40 L384.95,94.87 L375.25,96.17 Z" fill="#6586b3"/><path d="M375.25,96.17 L384.95,94.87 L380.10,72.10 Z" fill="#bcbcbc"/><path d="M375.25,96.17 L382.71,96.17 L380.10,72.10 Z" fill="#d9d9d9"/><path d="M382.71,96.17 L384.95,94.87 L380.10,72.10 Z" fill="#bcbcbc"/><path d="M364.70,148.50 L388.40,148.50 L382.71,96.17 L375.25,96.17 Z" fill="#7d9ecb" stroke="#7d9ecb" stroke-width="0.3"/><path d="M388.40,148.50 L395.50,144.40 L384.95,94.87 L382.71,96.17 Z" fill="#6586b3"/><path d="M375.25,96.17 L382.71,96.17 L384.95,94.87 L377.49,94.87 Z" fill="#9fbbe0" opacity="0.8"/><text x="88.4" y="164.9" text-anchor="middle" class="ax9b">分类1</text><text x="144.6" y="164.9" text-anchor="middle" class="ax9b">分类2</text><text x="199.6" y="164.9" text-anchor="middle" class="ax9b">分类3</text><text x="255.2" y="164.9" text-anchor="middle" class="ax9b">分类4</text><text x="310.7" y="164.9" text-anchor="middle" class="ax9b">分类5</text><text x="366.3" y="164.9" text-anchor="middle" class="ax9b">分类6</text><text x="65.4" y="200.3" class="t9">点击此处添加标题</text>
<text x="65.4" y="217.1" class="b9">标题数字等都可以通过点击和重新输入进</text><text x="65.4" y="230.6" class="b9">行更改，顶部 “开始” 面板中可以修改</text>
<text x="261.2" y="200.3" class="t9">点击此处添加标题</text>
<text x="261.2" y="217.1" class="b9">标题数字等都可以通过点击和重新输入进</text><text x="261.2" y="230.6" class="b9">行更改，顶部 “开始” 面板中可以修改</text>
</svg><div class="fl">广东财经学院 | University Name</div><div class="fr">www.aptgenius.com &nbsp;| <b>20</b></div></div>
<div class="s" style="left:485px;top:1120px"><div class="hd">4部分并列关系</div><svg class="sv" width="475" height="270"><path d="M157.71,144.90 A79.7,79.7 0 0 1 239.60,66.13 L239.60,103.56 A42.3,42.3 0 0 0 195.11,144.90 Z" fill="#014181"/><path d="M243.00,66.30 A79.7,79.7 0 0 1 316.88,151.70 L279.29,151.70 A42.3,42.3 0 0 0 243.00,103.87 Z" fill="#bfbfbf"/><path d="M316.41,156.30 A79.7,79.7 0 0 1 237.70,225.50 L237.70,188.10 A42.3,42.3 0 0 0 278.38,156.30 Z" fill="#8c8c8c"/><path d="M234.20,225.44 A79.7,79.7 0 0 1 157.79,149.50 L195.26,149.50 A42.3,42.3 0 0 0 234.20,187.98 Z" fill="#676767"/><path d="M239.60,88.40 L243.00,88.40 L244.90,85.60 L244.90,82.40 L243.00,79.60 L239.60,79.60 Z" fill="#fff"/><path d="M239.30,86.60 L243.40,84.00 L239.30,81.40 Z" fill="#014181"/><path d="M294.80,151.70 L294.80,155.10 L297.60,157.00 L300.80,157.00 L303.60,155.10 L303.60,151.70 Z" fill="#fff"/><path d="M296.60,151.40 L299.20,155.50 L301.80,151.40 Z" fill="#bfbfbf"/><path d="M237.70,203.50 L234.30,203.50 L232.40,206.30 L232.40,209.50 L234.30,212.30 L237.70,212.30 Z" fill="#fff"/><path d="M238.00,205.30 L233.90,207.90 L238.00,210.50 Z" fill="#8c8c8c"/><path d="M181.30,149.50 L181.30,146.10 L178.50,144.20 L175.30,144.20 L172.50,146.10 L172.50,149.50 Z" fill="#fff"/><path d="M179.50,149.80 L176.90,145.70 L174.30,149.80 Z" fill="#676767"/><text x="252.9" y="94.6" class="n10">01</text><text x="282.6" y="178.8" class="n10">02</text><text x="205.4" y="212.4" class="n10">03</text><text x="164.8" y="137.2" class="n10">04</text><text transform="translate(197.5,102.5) rotate(-41)" x="0" y="3.6" text-anchor="middle" class="r10">添加标题</text><text transform="translate(288.6,116.4) rotate(63.4)" x="0" y="3.6" text-anchor="middle" class="r10">添加标题</text><text transform="translate(268.8,193.6) rotate(-36)" x="0" y="3.6" text-anchor="middle" class="r10">添加标题</text><text transform="translate(189.6,178.8) rotate(52.9)" x="0" y="3.6" text-anchor="middle" class="r10">添加标题</text><text x="147" y="87.2" text-anchor="end" class="t10">点击此处添加标题</text>
<text x="147" y="102.8" text-anchor="end" class="b10">标题数字等都可以通过点击和</text><text x="147" y="117.1" text-anchor="end" class="b10">重新输入进行更改</text>
<text x="147" y="190.2" text-anchor="end" class="t10">点击此处添加标题</text>
<text x="147" y="205.6" text-anchor="end" class="b10">标题数字等都可以通过点击和</text><text x="147" y="220.2" text-anchor="end" class="b10">重新输入进行更改</text>
<text x="334.7" y="87.2" class="t10g">点击此处添加标题</text>
<text x="334.7" y="102.8" class="b10">标题数字等都可以通过点击和</text><text x="334.7" y="117.1" class="b10">重新输入进行更改</text>
<text x="334.7" y="190.2" class="t10g">点击此处添加标题</text>
<text x="334.7" y="205.6" class="b10">标题数字等都可以通过点击和</text><text x="334.7" y="220.2" class="b10">重新输入进行更改</text>
</svg><div class="fl">广东财经学院 | University Name</div><div class="fr">www.aptgenius.com &nbsp;| <b>21</b></div></div>
</body></html>
